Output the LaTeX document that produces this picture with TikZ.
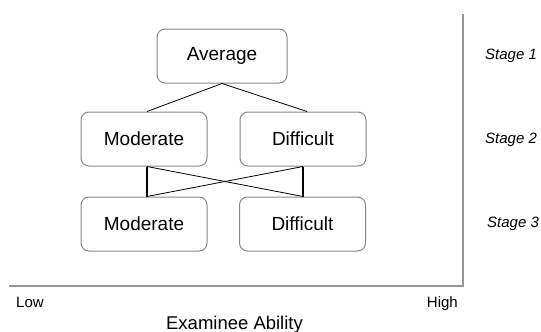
\documentclass[tikz,border=0pt]{standalone}
\usepackage{fontspec}
\setmainfont{Liberation Sans}
\definecolor{boxgray}{RGB}{135,135,135}
\definecolor{axisgray}{RGB}{150,150,150}
\begin{document}
\begin{tikzpicture}[x=1pt,y=-1pt,
  levelbox/.style={draw=boxgray, line width=1pt, rounded corners=8pt, minimum width=126pt, minimum height=54pt, inner sep=0pt, font=\fontsize{19}{22}\selectfont},
  thinline/.style={draw=black, line width=0.8pt},
  thickline/.style={draw=black, line width=2pt},
  stagelabel/.style={anchor=base west, inner sep=0pt, font=\fontsize{15}{18}\selectfont\itshape},
  axislabel/.style={inner sep=0pt, font=\fontsize{15}{18}\selectfont}]
\useasboundingbox (0,0) rectangle (541,332);
\node[levelbox, minimum width=130pt] (avg) at (222,56) {Average};
\node[levelbox] (m2) at (144,139) {Moderate};
\node[levelbox] (d2) at (303,139) {Difficult};
\node[levelbox] (m3) at (144,224) {Moderate};
\node[levelbox] (d3) at (302.5,224) {Difficult};
\draw[thinline] (avg.south) -- ([xshift=3pt]m2.north);
\draw[thinline] (avg.south) -- ([xshift=4pt]d2.north);
\draw[thickline] ([xshift=3pt]m2.south) -- ([xshift=3pt]m3.north);
\draw[thickline] (d2.south) -- ([xshift=0.5pt]d3.north);
\draw[thinline] ([xshift=3pt]m2.south) -- ([xshift=0.5pt]d3.north);
\draw[thinline] (d2.south) -- ([xshift=3pt]m3.north);
\coordinate (axl) at (9,286);
\coordinate (axc) at (463,286);
\coordinate (axt) at (463,14);
\draw[axisgray, line width=1.2pt] (axl) -- (axc) -- (axt);
\node[stagelabel] (s1) at (485,59.5) {Stage 1};
\node[stagelabel] (s2) at (485,143) {Stage 2};
\node[stagelabel] (s3) at (487,227) {Stage 3};
\node[axislabel, anchor=base west] (low) at (16,307) {Low};
\node[axislabel, anchor=base east] (high) at (458,307) {High};
\node[axislabel, anchor=base, font=\fontsize{18.5}{22}\selectfont] (ea) at (234.5,329) {Examinee Ability};
\end{tikzpicture}
\end{document}
